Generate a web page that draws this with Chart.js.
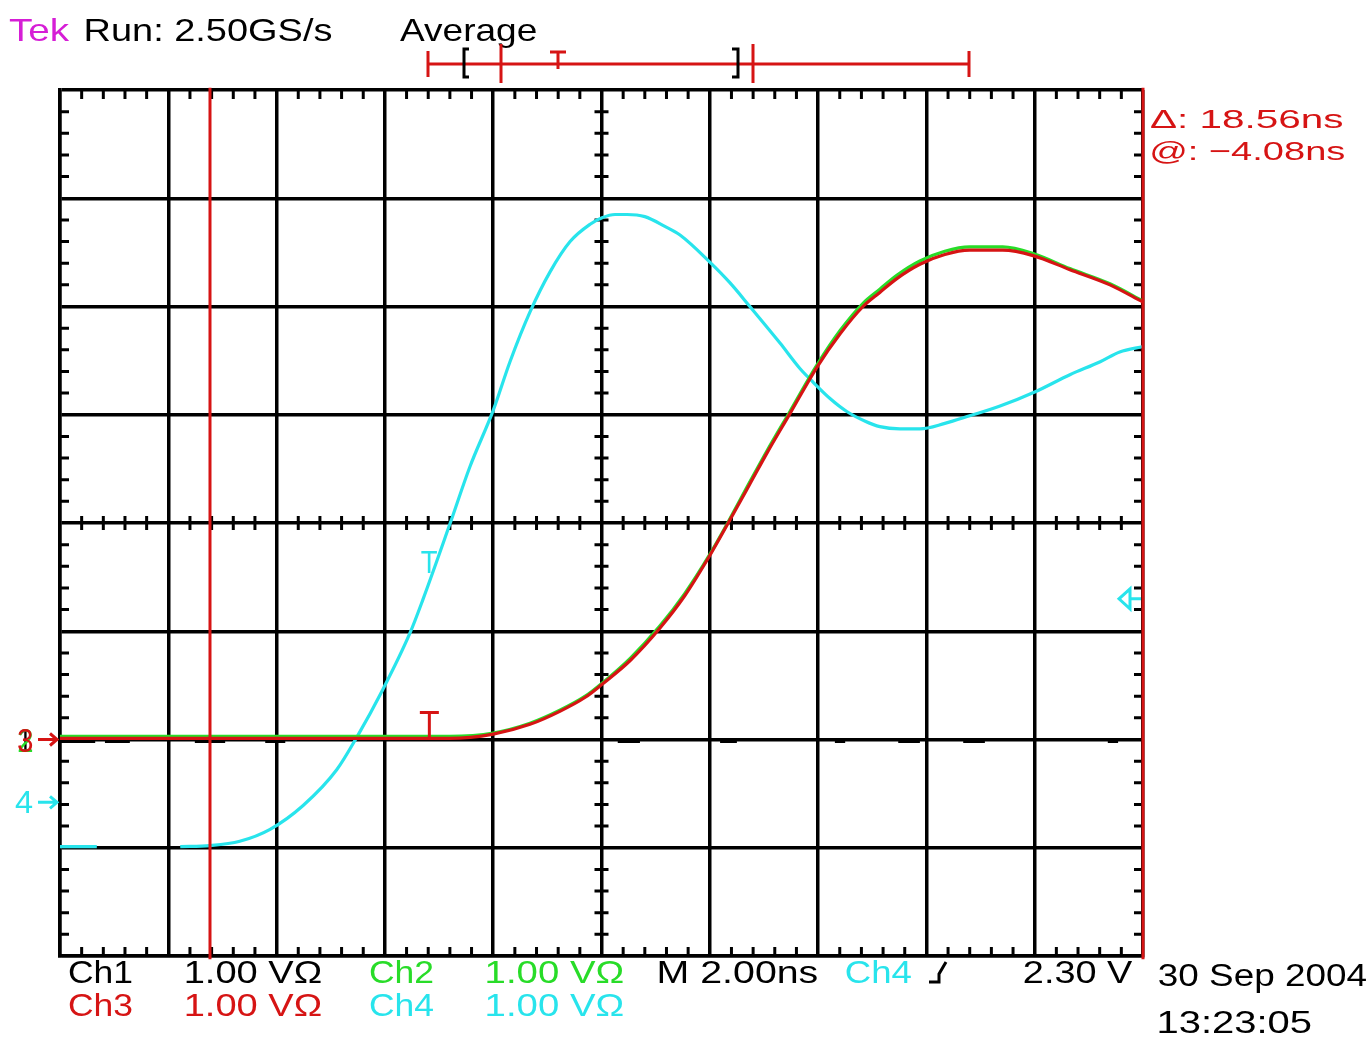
<!DOCTYPE html>
<html>
<head>
<meta charset="utf-8">
<script src="https://cdn.jsdelivr.net/npm/chart.js@4.4.1/dist/chart.umd.min.js"></script>
<style>
html,body{margin:0;padding:0;background:#fff;}
canvas{display:block;}
</style>
</head>
<body>
<canvas id="c" width="1372" height="1063"></canvas>
<script>
// ---- data (time in ns, amplitude in divisions, 1.00 V/div) ----
const xTicks = [-10,-8,-6,-4,-2,0,2,4,6,8,10];
const yTicks = [-4,-3,-2,-1,0,1,2,3,4];

const ch4Time = [-10,-9.32,null,-7.78,-7.23,-6.68,-6.12,-5.51,-4.89,-4.52,-4.04,-3.54,-3.30,-2.80,-2.43,-2.00,-1.69,-1.32,-0.95,-0.58,-0.21,0.01,0.25,0.47,0.80,1.17,1.45,2.00,2.37,2.74,3.30,3.66,3.91,4.22,4.53,4.87,5.14,5.51,5.88,6.34,6.80,7.36,8.00,8.65,9.21,9.57,10.0];
const ch4Volt = [-2.99,-2.99,null,-2.99,-2.98,-2.94,-2.83,-2.61,-2.28,-1.98,-1.54,-1.02,-0.71,-0.01,0.52,1.04,1.49,1.95,2.32,2.60,2.76,2.82,2.85,2.85,2.83,2.74,2.66,2.41,2.22,2.00,1.66,1.43,1.30,1.15,1.03,0.94,0.89,0.87,0.87,0.92,0.99,1.08,1.21,1.37,1.49,1.58,1.63];

const ch3Time = [-10,-2.80,-2.00,-1.32,-0.77,-0.30,0.01,0.53,1.08,1.54,2.00,2.34,2.74,3.06,3.48,3.98,4.41,4.83,5.14,5.46,5.88,6.34,6.80,7.41,7.97,8.65,9.39,10.0];
const ch3Volt = [-1.99,-1.99,-1.95,-1.86,-1.74,-1.61,-1.49,-1.27,-0.97,-0.67,-0.30,0.00,0.36,0.65,1.01,1.44,1.75,2.00,2.13,2.26,2.39,2.48,2.52,2.52,2.47,2.34,2.20,2.04];

const ch2Time = [-10,-2.80,-2.00,-1.32,-0.77,-0.30,0.01,0.53,1.08,1.54,2.00,2.34,2.74,3.06,3.48,3.98,4.41,4.83,5.14,5.46,5.88,6.34,6.80,7.41,7.97,8.65,9.39,10.0];
const ch2Volt = [-1.97,-1.97,-1.94,-1.85,-1.73,-1.60,-1.48,-1.25,-0.95,-0.65,-0.29,0.01,0.38,0.67,1.03,1.46,1.78,2.03,2.16,2.29,2.42,2.51,2.55,2.55,2.49,2.35,2.21,2.05];

const ch1Time = [-10,-9.35,null,-9.17,-8.71,null,-7.51,-6.95,null,-6.21,-5.84,null,0.30,0.71,null,2.19,2.50,null,4.31,4.50,null,5.48,5.88,null,6.68,7.08,null,9.35,9.54];
const ch1Volt = [-2.01,-2.01,null,-2.01,-2.01,null,-2.01,-2.01,null,-2.01,-2.01,null,-2.01,-2.01,null,-2.01,-2.01,null,-2.01,-2.01,null,-2.01,-2.01,null,-2.01,-2.01,null,-2.01,-2.01];

const cursorTimes = [-7.23, 10.0];
const groundLevels = {ch3: -2.0, ch4: -2.58};
const triggerLevel = -0.70;
const triggerTime = -3.17;

const CYAN = 'rgb(40,228,236)', RED = 'rgb(214,20,20)', GREEN = 'rgb(40,220,40)', MAG = 'rgb(214,30,214)';

function pts(xs, ys){ return xs.map((x,i)=> (x===null||ys[i]===null) ? {x:NaN,y:NaN} : {x:x,y:ys[i]}); }

const datasets = [];
cursorTimes.forEach(t => datasets.push({data:[{x:t,y:-4.03},{x:t,y:4.02}], borderColor:RED, borderWidth:3, showLine:true, pointRadius:0, order:0, clip:false}));
datasets.push({data:pts(ch3Time,ch3Volt), borderColor:RED, borderWidth:3.2, showLine:true, pointRadius:0, order:1, clip:4, cubicInterpolationMode:'monotone'});
datasets.push({data:pts(ch2Time,ch2Volt), borderColor:GREEN, borderWidth:3.2, showLine:true, pointRadius:0, order:2, clip:4, cubicInterpolationMode:'monotone'});
datasets.push({data:pts(ch4Time,ch4Volt), borderColor:CYAN, borderWidth:3.2, showLine:true, pointRadius:0, order:3, clip:4, cubicInterpolationMode:'monotone', spanGaps:false});
datasets.push({data:pts(ch1Time,ch1Volt), borderColor:'#000', borderWidth:5, showLine:true, pointRadius:0, order:4, clip:4, spanGaps:false});

function fitText(ctx, txt, x0, x1, base, cap, color){
  const size = cap/0.716;
  ctx.font = size.toFixed(1)+'px "Liberation Sans", Arial, sans-serif';
  const m = ctx.measureText(txt);
  const w = m.actualBoundingBoxLeft + m.actualBoundingBoxRight;
  const sx = (x1-x0)/w;
  ctx.save();
  ctx.translate(x0, base);
  ctx.scale(sx, 1);
  ctx.fillStyle = color;
  ctx.textBaseline = 'alphabetic';
  ctx.fillText(txt, m.actualBoundingBoxLeft, 0);
  ctx.restore();
}

const scopePlugin = {
  id:'scope',
  beforeDraw(chart){
    const c = chart.ctx;
    c.save(); c.fillStyle='#fff'; c.fillRect(0,0,chart.width,chart.height); c.restore();
  },
  beforeDatasetsDraw(chart){
    const c = chart.ctx, xs = chart.scales.x, ys = chart.scales.y;
    c.save();
    c.strokeStyle = '#000'; c.lineWidth = 3;
    const top = ys.getPixelForValue(4), bot = ys.getPixelForValue(-4);
    const left = xs.getPixelForValue(-10), right = xs.getPixelForValue(10);
    const cy = ys.getPixelForValue(0), cx = xs.getPixelForValue(0);
    c.beginPath();
    for (let i=1;i<50;i++){
      if (i%5===0) continue;
      const x = xs.getPixelForValue(-10 + i*0.4);
      c.moveTo(x, top); c.lineTo(x, top+9);
      c.moveTo(x, bot); c.lineTo(x, bot-9);
      c.moveTo(x, cy-7); c.lineTo(x, cy+7);
    }
    for (let j=1;j<40;j++){
      if (j%5===0) continue;
      const y = ys.getPixelForValue(-4 + j*0.2);
      c.moveTo(left, y); c.lineTo(left+9, y);
      c.moveTo(right, y); c.lineTo(right-9, y);
      c.moveTo(cx-7, y); c.lineTo(cx+7, y);
    }
    c.stroke();
    c.restore();
  },
  afterDraw(chart){
    const c = chart.ctx, xs = chart.scales.x, ys = chart.scales.y;
    c.save();
    // header
    fitText(c, 'Tek', 9, 70, 41, 22, MAG);
    fitText(c, 'Run: 2.50GS/s', 86, 332, 41, 22, '#000');
    fitText(c, 'Average', 400, 536, 41, 22, '#000');
    // record bar
    c.strokeStyle = RED; c.lineWidth = 3;
    c.beginPath();
    c.moveTo(428,64); c.lineTo(969,64);
    c.moveTo(428,51); c.lineTo(428,77);
    c.moveTo(501,44); c.lineTo(501,83);
    c.moveTo(753,44); c.lineTo(753,83);
    c.moveTo(969,51); c.lineTo(969,77);
    c.moveTo(550,52); c.lineTo(566,52);
    c.moveTo(558,52); c.lineTo(558,69);
    c.stroke();
    c.strokeStyle = '#000'; c.lineWidth = 3;
    c.beginPath();
    c.moveTo(469,49); c.lineTo(464,49); c.lineTo(464,77); c.lineTo(469,77);
    c.moveTo(732,49); c.lineTo(738,49); c.lineTo(738,77); c.lineTo(732,77);
    c.stroke();
    // cursor readouts
    fitText(c, '\u0394: 18.56ns', 1150, 1343, 128, 19, RED);
    fitText(c, '@: \u22124.08ns', 1152, 1345, 160, 19, RED);
    // ground markers
    const y3 = ys.getPixelForValue(groundLevels.ch3), y4 = ys.getPixelForValue(groundLevels.ch4);
    fitText(c, '1', 19, 31, y3+12, 24, '#000');
    fitText(c, '2', 18, 32, y3+12, 24, GREEN);
    fitText(c, '3', 18, 33, y3+12, 24, RED);
    fitText(c, '4', 15, 33, y4+11, 22, CYAN);
    const arrow = (y,col)=>{
      c.strokeStyle = col; c.lineWidth = 3;
      c.beginPath(); c.moveTo(38,y); c.lineTo(56,y);
      c.moveTo(50,y-6); c.lineTo(57,y); c.lineTo(50,y+6); c.stroke();
    };
    arrow(y3, RED); arrow(y4, CYAN);
    // trigger level arrow (right)
    const yt = ys.getPixelForValue(triggerLevel);
    c.strokeStyle = CYAN; c.lineWidth = 3;
    c.beginPath();
    c.moveTo(1130,yt-10); c.lineTo(1119,yt); c.lineTo(1130,yt+10); c.closePath();
    c.moveTo(1130,yt); c.lineTo(1141,yt);
    c.stroke();
    // trigger markers
    const xt = xs.getPixelForValue(triggerTime);
    fitText(c, 'T', xt-9, xt+8, 573, 22, CYAN);
    c.strokeStyle = RED; c.lineWidth = 3;
    c.beginPath();
    c.moveTo(xt-10, ys.getPixelForValue(-1.75)); c.lineTo(xt+9, ys.getPixelForValue(-1.75));
    c.moveTo(xt-0.5, ys.getPixelForValue(-1.75)); c.lineTo(xt-0.5, y3);
    c.stroke();
    // bottom readouts
    fitText(c, 'Ch1', 69, 132, 983, 23, '#000');
    fitText(c, '1.00 V\u03A9', 186, 321, 983, 23, '#000');
    fitText(c, 'Ch2', 370, 433, 983, 23, GREEN);
    fitText(c, '1.00 V\u03A9', 487, 623, 983, 23, GREEN);
    fitText(c, 'M 2.00ns', 659, 817, 983, 23, '#000');
    fitText(c, 'Ch4', 846, 911, 983, 23, CYAN);
    fitText(c, '2.30 V', 1024, 1133, 983, 23, '#000');
    c.strokeStyle = '#000'; c.lineWidth = 3;
    c.beginPath(); c.moveTo(929,982); c.lineTo(939,982); c.lineTo(939,974); c.lineTo(946,962); c.stroke();
    fitText(c, 'Ch3', 69, 132, 1016, 23, RED);
    fitText(c, '1.00 V\u03A9', 186, 321, 1016, 23, RED);
    fitText(c, 'Ch4', 370, 433, 1016, 23, CYAN);
    fitText(c, '1.00 V\u03A9', 487, 623, 1016, 23, CYAN);
    fitText(c, '30 Sep 2004', 1159, 1366, 986, 23, '#000');
    fitText(c, '13:23:05', 1159, 1311, 1033, 23, '#000');
    c.restore();
  }
};

new Chart(document.getElementById('c').getContext('2d'), {
  type:'scatter',
  data:{datasets:datasets},
  options:{
    responsive:false, animation:false, devicePixelRatio:1,
    layout:{padding:{left:60,right:229,top:90,bottom:107}},
    plugins:{legend:{display:false}, tooltip:{enabled:false}},
    scales:{
      x:{type:'linear', min:xTicks[0], max:xTicks[xTicks.length-1],
         afterBuildTicks:(s)=>{s.ticks = xTicks.map(v=>({value:v}));},
         ticks:{display:false}, grid:{color:'#000', lineWidth:3.5, drawTicks:false},
         border:{display:true, color:'#000', width:3.5}},
      y:{type:'linear', min:yTicks[0], max:yTicks[yTicks.length-1],
         afterBuildTicks:(s)=>{s.ticks = yTicks.map(v=>({value:v}));},
         ticks:{display:false}, grid:{color:'#000', lineWidth:3.5, drawTicks:false},
         border:{display:true, color:'#000', width:3.5}}
    }
  },
  plugins:[scopePlugin]
});
</script>
</body>
</html>
